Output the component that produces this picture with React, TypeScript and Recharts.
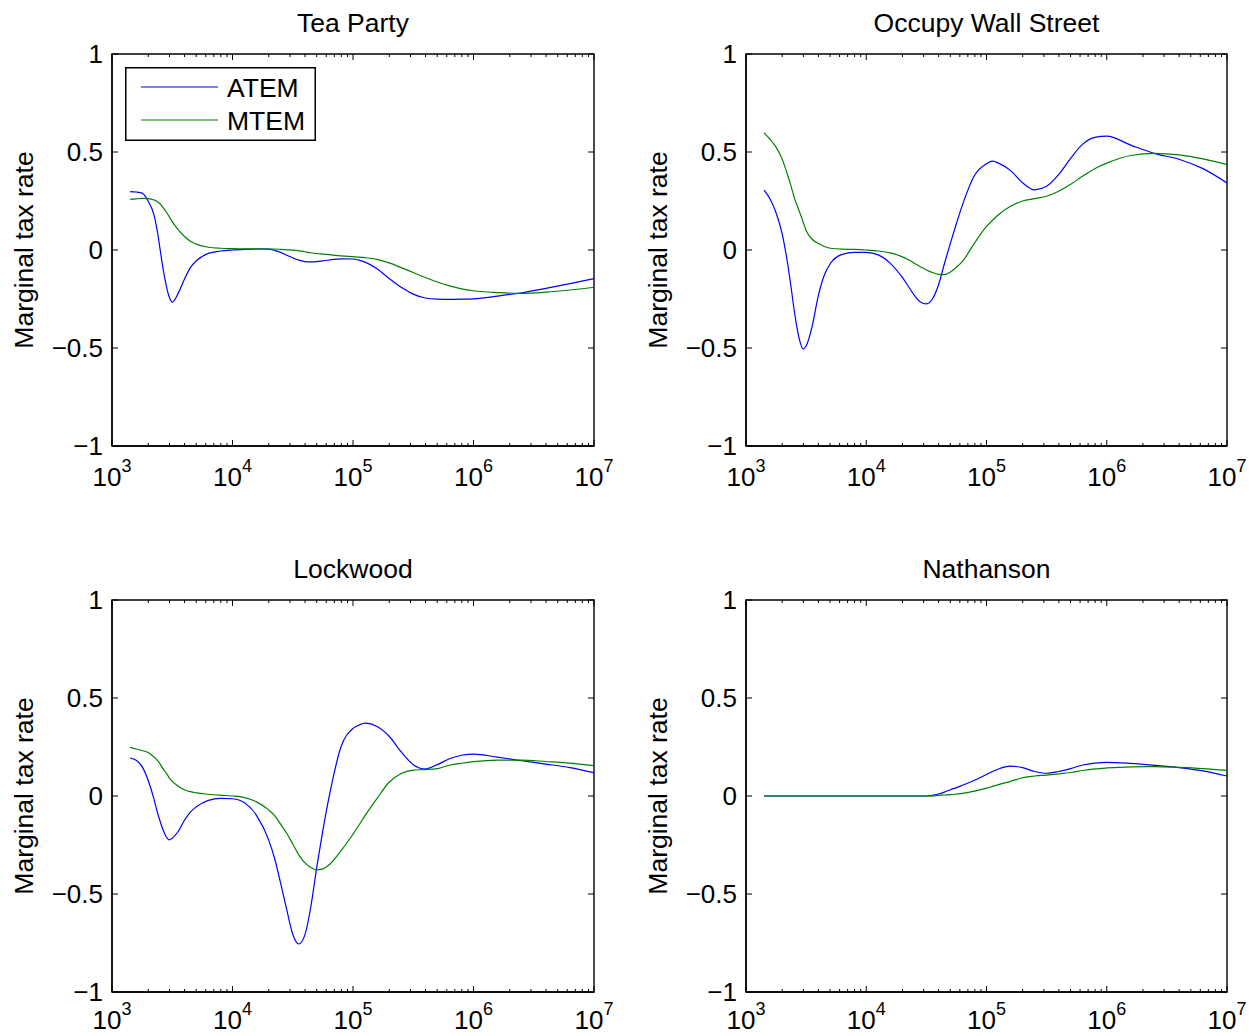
import React from 'react';
import { LineChart, Line, XAxis, YAxis, Legend, ReferenceArea } from 'recharts';

document.body.style.margin = '0';

// income grid (x), shared by every panel
const INCOME = [
  1413, 1585, 1778, 1995, 2239, 2371, 2512, 2661, 2818, 2985,
  3162, 3548, 3981, 4467, 5012, 6310, 7943, 10000, 12589, 15849,
  19953, 22387, 25119, 28184, 31623, 35481, 39811, 44668, 50119, 56234,
  63096, 79433, 100000, 112202, 125893, 158489, 199526, 251189, 316228, 398107,
  501187, 630957, 794328, 1000000, 1584893, 2511886, 3981072, 6309573, 10000000,
];

const TP_ATEM = [
  0.298, 0.296, 0.29, 0.25, 0.175, 0.1, 0.0, -0.1, -0.18, -0.24,
  -0.266, -0.22, -0.15, -0.09, -0.055, -0.017, -0.005, 0, 0.003, 0.005,
  0.004, -0.002, -0.012, -0.027, -0.04, -0.052, -0.059, -0.061, -0.059, -0.055,
  -0.051, -0.045, -0.046, -0.052, -0.062, -0.096, -0.145, -0.19, -0.225, -0.245,
  -0.251, -0.252, -0.251, -0.249, -0.235, -0.218, -0.196, -0.172, -0.146,
];
const TP_MTEM = [
  0.258, 0.261, 0.263, 0.262, 0.255, 0.248, 0.235, 0.215, 0.195, 0.17,
  0.145, 0.103, 0.07, 0.045, 0.03, 0.014, 0.009, 0.007, 0.006, 0.006,
  0.005, 0.005, 0.003, 0.001, -0.001, -0.004, -0.009, -0.014, -0.018, -0.021,
  -0.024, -0.03, -0.034, -0.036, -0.039, -0.048, -0.066, -0.09, -0.115, -0.14,
  -0.163, -0.183, -0.198, -0.208, -0.217, -0.221, -0.215, -0.204, -0.19,
];

const OWS_ATEM = [
  0.305, 0.26, 0.19, 0.085, -0.085, -0.19, -0.305, -0.4, -0.47, -0.505,
  -0.49, -0.39, -0.237, -0.13, -0.07, -0.022, -0.012, -0.012, -0.025, -0.068,
  -0.14, -0.185, -0.232, -0.265, -0.275, -0.25, -0.18, -0.07, 0.035, 0.135,
  0.23, 0.38, 0.44, 0.453, 0.443, 0.405, 0.343, 0.307, 0.325, 0.385,
  0.468, 0.54, 0.575, 0.581, 0.535, 0.492, 0.463, 0.415, 0.342,
];
const OWS_MTEM = [
  0.598, 0.565, 0.525, 0.465, 0.375, 0.325, 0.27, 0.227, 0.186, 0.143,
  0.1, 0.055, 0.034, 0.018, 0.009, 0.004, 0.003, 0.0, -0.005, -0.015,
  -0.035, -0.05, -0.068, -0.085, -0.102, -0.115, -0.124, -0.126, -0.112, -0.088,
  -0.058, 0.035, 0.12, 0.152, 0.18, 0.223, 0.25, 0.262, 0.274, 0.3,
  0.335, 0.377, 0.415, 0.443, 0.482, 0.493, 0.485, 0.465, 0.436,
];

const LW_ATEM = [
  0.194, 0.182, 0.15, 0.08, -0.02, -0.08, -0.13, -0.175, -0.208, -0.224,
  -0.215, -0.18, -0.125, -0.082, -0.055, -0.022, -0.012, -0.014, -0.035, -0.1,
  -0.224, -0.32, -0.446, -0.58, -0.705, -0.755, -0.71, -0.565, -0.36, -0.175,
  -0.01, 0.25, 0.345, 0.362, 0.372, 0.355, 0.305, 0.225, 0.16, 0.138,
  0.16, 0.19, 0.208, 0.214, 0.198, 0.18, 0.163, 0.145, 0.119,
];
const LW_MTEM = [
  0.248, 0.24, 0.232, 0.222, 0.198, 0.183, 0.163, 0.138, 0.117, 0.093,
  0.075, 0.05, 0.032, 0.022, 0.016, 0.009, 0.004, 0.0, -0.008, -0.03,
  -0.071, -0.1, -0.145, -0.19, -0.245, -0.3, -0.34, -0.365, -0.377, -0.372,
  -0.352, -0.28, -0.195, -0.148, -0.1, -0.012, 0.07, 0.115, 0.132, 0.135,
  0.14, 0.157, 0.167, 0.175, 0.183, 0.183, 0.176, 0.168, 0.155,
];

const NAT_ATEM = [
  0, 0, 0, 0, 0, 0, 0, 0, 0, 0,
  0, 0, 0, 0, 0, 0, 0, 0, 0, 0,
  0, 0, 0, 0, 0, 0.003, 0.01, 0.02, 0.032, 0.043,
  0.055, 0.08, 0.11, 0.125, 0.138, 0.152, 0.145, 0.125, 0.116, 0.125,
  0.14, 0.158, 0.168, 0.172, 0.166, 0.156, 0.145, 0.128, 0.102,
];
const NAT_MTEM = [
  0, 0, 0, 0, 0, 0, 0, 0, 0, 0,
  0, 0, 0, 0, 0, 0, 0, 0, 0, 0,
  0, 0, 0, 0, 0, 0.001, 0.003, 0.005, 0.007, 0.01,
  0.013, 0.025, 0.04, 0.049, 0.058, 0.075, 0.093, 0.102, 0.107, 0.113,
  0.12, 0.13, 0.138, 0.143, 0.149, 0.15, 0.146, 0.14, 0.131,
];

const X_MAJOR = [1e3, 1e4, 1e5, 1e6, 1e7];
const X_TICKS = [
  1e3, 2e3, 3e3, 4e3, 5e3, 6e3, 7e3, 8e3, 9e3,
  1e4, 2e4, 3e4, 4e4, 5e4, 6e4, 7e4, 8e4, 9e4,
  1e5, 2e5, 3e5, 4e5, 5e5, 6e5, 7e5, 8e5, 9e5,
  1e6, 2e6, 3e6, 4e6, 5e6, 6e6, 7e6, 8e6, 9e6,
  1e7,
];
const Y_TICKS = [-1, -0.5, 0, 0.5, 1];

const FONT = '"Liberation Sans", Arial, Helvetica, sans-serif';
const FS = 26;
const FS_TEXT = 26.5;
const CHART_W = 634;
const PLOT_LEFT = 112;
const PLOT_TOP = 54;
const PLOT_H = 392;
const Y_AXIS_W = 60;
const X_AXIS_H = 40;

const isMajor = (v: number) => X_MAJOR.includes(v);

// bottom ticks point inward; the mirrored top ticks are drawn here as well
const BottomTick = (props: any) => {
  const { x, y, payload, labelDy } = props;
  const v = payload.value;
  const major = isMajor(v);
  const len = major ? 6 : 3;
  return (
    <g>
      <line x1={x} x2={x} y1={y} y2={y - len} stroke="#000" strokeWidth={1} />
      <line x1={x} x2={x} y1={y - PLOT_H} y2={y - PLOT_H + len} stroke="#000" strokeWidth={1} />
      {major && (
        <text x={x} y={y + labelDy} textAnchor="middle" fontSize={FS} fontFamily={FONT} fill="#000">
          10<tspan dy={-14} fontSize={18}>{Math.round(Math.log10(v))}</tspan>
        </text>
      )}
    </g>
  );
};

const fmtY = (v: number) => (v < 0 ? '\u2212' + Math.abs(v) : String(v));

const LeftTick = (props: any) => {
  const { x, y, payload, plotW } = props;
  return (
    <g>
      <line x1={x} x2={x + 6} y1={y} y2={y} stroke="#000" strokeWidth={1} />
      <line x1={x + plotW} x2={x + plotW - 6} y1={y} y2={y} stroke="#000" strokeWidth={1} />
      <text x={x - 9} y={y} dy="0.36em" textAnchor="end" fontSize={FS} fontFamily={FONT} fill="#000">
        {fmtY(payload.value)}
      </text>
    </g>
  );
};

const LegendBox = (props: any) => {
  const items = props.payload || [];
  return (
    <svg width={191} height={74} style={{ display: 'block' }}>
      <rect x={0.75} y={0.75} width={189.5} height={72.5} fill="#fff" stroke="#000" strokeWidth={1.5} />
      {items.map((p: any, i: number) => (
        <g key={p.value}>
          <line x1={16} x2={93} y1={20 + i * 33} y2={20 + i * 33} stroke={p.color} strokeWidth={1.2} />
          <text x={102} y={20 + i * 33} dy="0.36em" fontSize={FS_TEXT} fontFamily={FONT} fill="#000">
            {p.value}
          </text>
        </g>
      ))}
    </svg>
  );
};

interface PanelProps {
  title: string;
  atem: number[];
  mtem: number[];
  left: number;
  top: number;
  plotW: number;
  height: number;
  labelDy: number;
  showLegend?: boolean;
}

const Panel = ({ title, atem, mtem, left, top, plotW, height, labelDy, showLegend }: PanelProps) => {
  const rows = INCOME.map((x, i) => ({ x, atem: atem[i], mtem: mtem[i] }));
  const midX = PLOT_LEFT + plotW / 2;
  const midY = PLOT_TOP + PLOT_H / 2;
  return (
    <div style={{ position: 'absolute', left, top }}>
      <LineChart
        width={CHART_W}
        height={height}
        data={rows}
        style={{ overflow: 'visible' }}
        margin={{
          top: PLOT_TOP,
          left: PLOT_LEFT - Y_AXIS_W,
          right: CHART_W - PLOT_LEFT - plotW,
          bottom: height - PLOT_TOP - PLOT_H - X_AXIS_H,
        }}
      >
        <XAxis
          dataKey="x"
          type="number"
          scale="log"
          domain={[1000, 10000000]}
          allowDataOverflow
          ticks={X_TICKS}
          interval={0}
          height={X_AXIS_H}
          tickSize={0}
          tickMargin={0}
          tickLine={false}
          tick={(p: any) => <BottomTick {...p} labelDy={labelDy} />}
          axisLine={{ stroke: '#000', strokeWidth: 1.4 }}
        />
        <YAxis
          type="number"
          domain={[-1, 1]}
          ticks={Y_TICKS}
          interval={0}
          width={Y_AXIS_W}
          tickSize={0}
          tickMargin={0}
          tickLine={false}
          tick={(p: any) => <LeftTick {...p} plotW={plotW} />}
          axisLine={{ stroke: '#000', strokeWidth: 1.4 }}
          label={() => (
            <g>
              <text x={midX} y={32} textAnchor="middle" fontSize={FS_TEXT} fontFamily={FONT} fill="#000">
                {title}
              </text>
              <text
                x={33}
                y={midY}
                transform={`rotate(-90, 33, ${midY})`}
                textAnchor="middle"
                fontSize={FS_TEXT}
                fontFamily={FONT}
                fill="#000"
              >
                Marginal tax rate
              </text>
            </g>
          )}
        />
        <ReferenceArea x1={1000} x2={10000000} y1={-1} y2={1} fill="none" stroke="#000" strokeWidth={1.4} />
        {showLegend && (
          <Legend
            layout="vertical"
            align="center"
            verticalAlign="middle"
            content={<LegendBox />}
            wrapperStyle={{ left: 125, top: 67, width: 191, height: 74 }}
          />
        )}
        <Line type="monotone" dataKey="atem" name="ATEM" stroke="#0000ff" strokeWidth={1.2} dot={false} isAnimationActive={false} />
        <Line type="monotone" dataKey="mtem" name="MTEM" stroke="#008000" strokeWidth={1.2} dot={false} isAnimationActive={false} />
      </LineChart>
    </div>
  );
};

export default function App() {
  return (
    <div style={{ position: 'relative', width: 1249, height: 1036, background: '#fff', fontFamily: FONT, overflow: 'hidden' }}>
      <Panel title="Tea Party" atem={TP_ATEM} mtem={TP_MTEM} left={0} top={0} plotW={482} height={518} labelDy={40} showLegend />
      <Panel title="Occupy Wall Street" atem={OWS_ATEM} mtem={OWS_MTEM} left={634} top={0} plotW={481} height={518} labelDy={40} />
      <Panel title="Lockwood" atem={LW_ATEM} mtem={LW_MTEM} left={0} top={546} plotW={482} height={490} labelDy={37} />
      <Panel title="Nathanson" atem={NAT_ATEM} mtem={NAT_MTEM} left={634} top={546} plotW={481} height={490} labelDy={37} />
    </div>
  );
}
